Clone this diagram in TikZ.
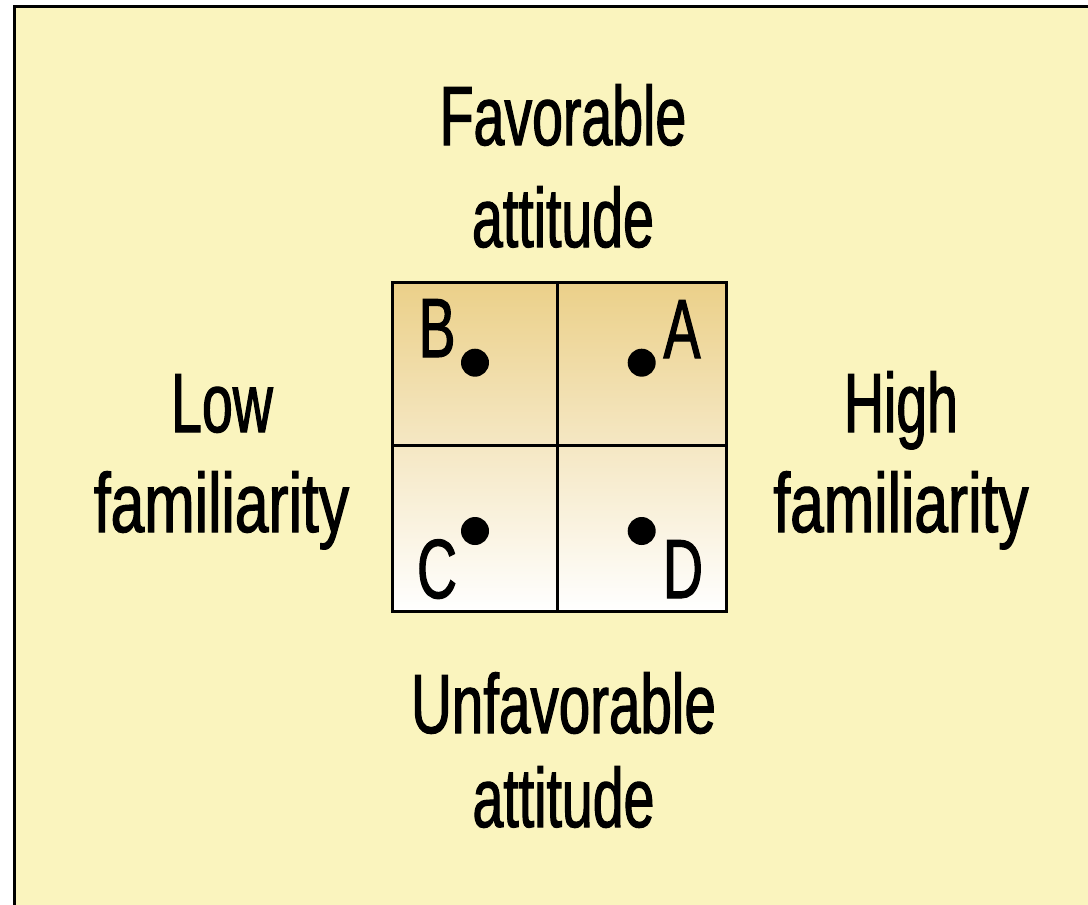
\documentclass[tikz,border=0pt]{standalone}
\usepackage{fontspec}
\usepackage{graphicx}
\setmainfont{Liberation Sans}[FakeStretch=0.66,FakeBold=1.3]
\definecolor{bgyellow}{HTML}{FAF4BE}
\definecolor{gold}{HTML}{EBD089}
\begin{document}
\begin{tikzpicture}[x=1pt,y=-1pt,
  lbl/.style={anchor=base,inner sep=0pt,font=\fontsize{84}{100}\selectfont},
  dot/.style={circle,fill=black,minimum size=28pt,inner sep=0pt},
  gridline/.style={line width=3pt,draw=black}]
\useasboundingbox (0,0) rectangle (1088,905);
\fill[white] (0,0) rectangle (1088,905);
\fill[bgyellow] (14.5,6.5) rectangle (1088,905);
\draw[line width=3pt] (14.5,905) -- (14.5,6.5) -- (1088,6.5);
% grid
\shade[top color=gold,bottom color=white] (392.7,282) rectangle (726.7,611.7);
\coordinate (tl) at (392.7,282);
\coordinate (br) at (726.7,611.7);
\coordinate (mt) at (557.7,282);
\coordinate (mb) at (557.7,611.7);
\coordinate (ml) at (392.7,445);
\coordinate (mr) at (726.7,445);
\draw[gridline] (tl) rectangle (br);
\draw[gridline] (mt) -- (mb);
\draw[gridline] (ml) -- (mr);
% dots
\node[dot] (dB) at (475,362.7) {};
\node[dot] (dA) at (641.7,362.7) {};
\node[dot] (dC) at (475,531) {};
\node[dot] (dD) at (641.7,531) {};
% letters
\node[lbl] (lB) at (437,357) {B};
\node[lbl] (lA) at (682,358) {A};
\node[lbl] (lC) at (437,598) {C};
\node[lbl] (lD) at (683,598) {D};
% axis labels
\node[lbl] (fav1) at (563,145) {Favorable};
\node[lbl] (fav2) at (563,247) {attitude};
\node[lbl] (low1) at (222,432) {Low};
\node[lbl] (low2) at (221.5,532) {\scalebox{1.09}[1]{familiarity}};
\node[lbl] (high1) at (901,432) {High};
\node[lbl] (high2) at (901,532) {\scalebox{1.09}[1]{familiarity}};
\node[lbl] (unf1) at (563.5,733) {\scalebox{1.02}[1]{Unfavorable}};
\node[lbl] (unf2) at (563.5,827) {attitude};
\end{tikzpicture}
\end{document}
